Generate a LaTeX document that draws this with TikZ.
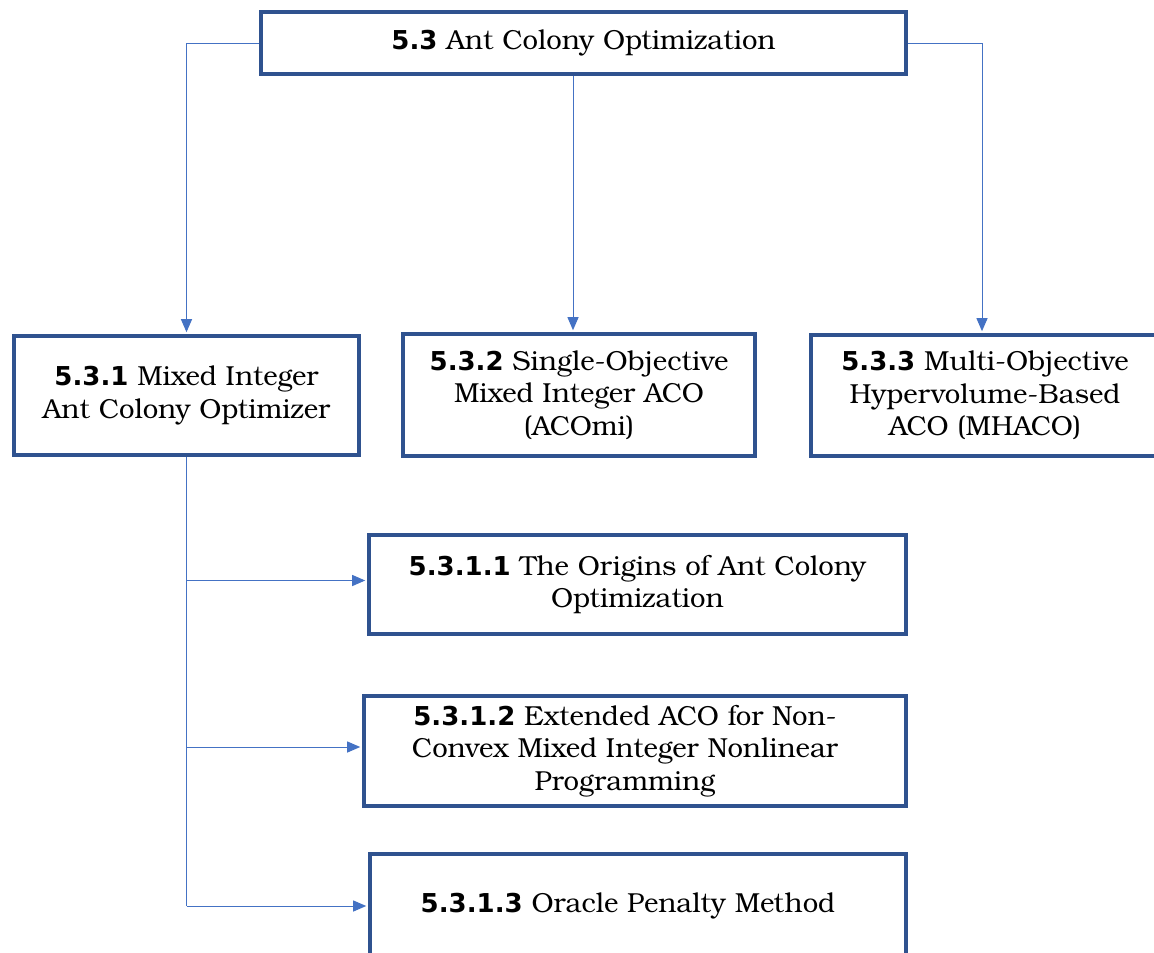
\documentclass[tikz,border=0pt]{standalone}
\usepackage{fontspec}
\setmainfont{TeX Gyre Bonum}
\newfontfamily\numfont{DejaVu Sans}
\usetikzlibrary{arrows.meta}
\definecolor{boxblue}{RGB}{47,82,143}
\definecolor{linkblue}{RGB}{68,114,196}
\newcommand{\secnum}[1]{{\numfont\bfseries\fontsize{26}{32}\selectfont #1}}
\newcommand{\rpad}{\kern20pt}
\begin{document}
\begin{tikzpicture}[x=1pt,y=-1pt,
  box/.style={draw=boxblue,line width=3.6pt,fill=white,align=center,inner sep=0pt,
    font=\fontsize{27.5}{32.5}\selectfont},
  conn/.style={draw=linkblue,line width=1pt},
  arr/.style={conn,-{Triangle[length=13pt,width=11pt]},shorten >=2pt}]
\useasboundingbox (0,0) rectangle (1154,953);
\clip (0,0) rectangle (1154,953);
\fill[white] (0,0) rectangle (1154,953);
\node[box,minimum width=645pt,minimum height=62pt] (top) at (583.5,43) {\secnum{5.3} Ant Colony Optimization};
\node[box,minimum width=345pt,minimum height=119pt] (m1) at (186.5,395.5) {\secnum{5.3.1} Mixed Integer\\Ant Colony Optimizer};
\node[box,minimum width=352pt,minimum height=122pt] (m2) at (579,395) {\secnum{5.3.2} Single-Objective\\Mixed Integer ACO\\(ACOmi)};
\node[box,minimum width=348pt,minimum height=121pt] (m3) at (985,395.5) {\secnum{5.3.3} Multi-Objective\\Hypervolume-Based\\ACO (MHACO)};
\node[box,minimum width=537pt,minimum height=99pt] (s1) at (637.5,584.5) {\secnum{5.3.1.1} The Origins of Ant Colony\\Optimization};
\node[box,minimum width=542pt,minimum height=110pt] (s2) at (635,751) {\secnum{5.3.1.2} Extended ACO for Non-\rpad\\Convex Mixed Integer Nonlinear\rpad\\Programming\rpad};
\node[box,minimum width=536pt,minimum height=104pt] (s3) at (638,906) {\raisebox{5pt}{\secnum{5.3.1.3} Oracle Penalty Method\rpad}};
\coordinate (c2) at (573,0);
\coordinate (c3) at (982,0);
\coordinate (a1) at ([yshift=4pt]s1.west);
\coordinate (a2) at ([yshift=4pt]s2.west);
\draw[arr] (top.west) -| (m1.north);
\draw[arr] (top.south -| c2) -- (m2.north -| c2);
\draw[arr] (top.east) -| (m3.north -| c3);
\draw[conn] (m1.south) -- (m1.south |- s3.west);
\draw[arr] (m1.south |- a1) -- (a1);
\draw[arr] (m1.south |- a2) -- (a2);
\draw[arr] (m1.south |- s3.west) -- (s3.west);
\end{tikzpicture}
\end{document}
